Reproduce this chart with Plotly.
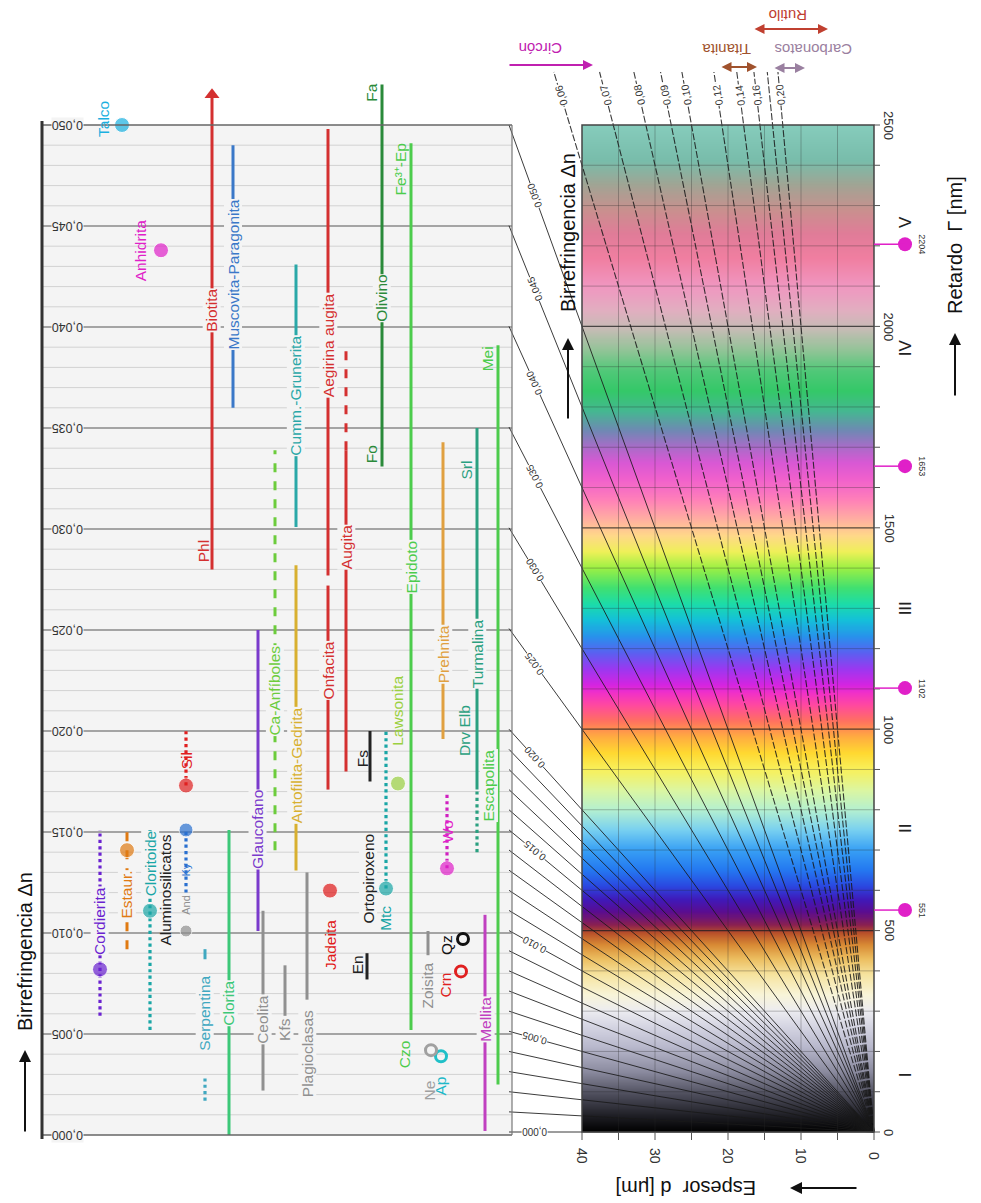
import math
import numpy as np
import plotly.graph_objects as go

# browser page has an 8 px body margin: the figure is drawn 8 px in from the window corner
OFF = 8
W, H = 981 - OFF, 1203 - OFF
FONT = "Liberation Sans, Arial, sans-serif"

# ---------------- geometry of the drawing (window pixels) ----------------
X_D0 = 874.0        # pixel x of thickness d = 0
PX_UM = 7.3         # pixels per micrometre
Y_G0 = 1132.0       # pixel y of retardation 0
PX_NM = 0.4028      # pixels per nm of retardation
Y_DN0 = 1135.0      # pixel y of birefringence 0 (left panel)
PX_DN = 20200.0     # pixels per unit birefringence (left panel)

# ---------------- DATA ----------------
# interference colour stops (retardation nm -> colour)
ret_nm = [0, 40, 90, 150, 210, 260, 300, 340, 390, 430, 465, 495, 515, 545, 575,
          610, 650, 700, 750, 800, 850, 900, 940, 980, 1020, 1060, 1090, 1110,
          1150, 1190, 1230, 1270, 1310, 1350, 1400, 1440, 1480, 1520, 1570,
          1620, 1660, 1700, 1740, 1790, 1840, 1890, 1940, 1990, 2040, 2100,
          2170, 2230, 2290, 2350, 2410, 2500]
ret_col = ["#000000", "#1e1e24", "#4a4a58", "#8a8a9e", "#b8b8cc", "#d4d4e2",
           "#ececf0", "#f8f4d8", "#f6e4a0", "#ecbe60", "#d88a34", "#b8502a",
           "#8a2050", "#5a0c90", "#4018b8", "#2a48e0", "#2478f0", "#38a0f4",
           "#78d0f0", "#b4f0d0", "#dcf6a0", "#f8f05a", "#ffd830", "#ffac40",
           "#ff7060", "#ff48a0", "#f030c8", "#d424e0", "#9a38f0", "#5a60f0",
           "#2890ec", "#14c0d8", "#1cdca8", "#40e070", "#9cf044", "#eef058",
           "#ffd888", "#ffb0a0", "#ff80b8", "#f060cc", "#d858d4", "#a86cc8",
           "#7088b4", "#44b890", "#34c868", "#50c878", "#90c496", "#c4bcb4",
           "#e2aec0", "#f096c0", "#f07ea0", "#e07c98", "#c8908e", "#a0a494",
           "#78bcaa", "#86ccbc"]

# thickness and retardation tick values
thick_ticks = [0, 10, 20, 30, 40]
ret_ticks = [0, 500, 1000, 1500, 2000, 2500]
order_ret = [551, 1102, 1653, 2204]
roman = ["I", "II", "III", "IV", "V"]
roman_ret = [141, 752, 1300, 1946, 2259]

# birefringence isolines
fan_dn = [0.000, 0.001, 0.002, 0.003, 0.004, 0.005, 0.006, 0.007, 0.008, 0.009,
          0.010, 0.011, 0.012, 0.013, 0.014, 0.015, 0.016, 0.017, 0.018, 0.019,
          0.020, 0.025, 0.030, 0.035, 0.040, 0.045, 0.050]
fan_labels = ["0,000", "0,005", "0,010", "0,015", "0,020", "0,025", "0,030",
              "0,035", "0,040", "0,045", "0,050"]
fan_label_dn = [0.000, 0.005, 0.010, 0.015, 0.020, 0.025, 0.030, 0.035, 0.040, 0.045, 0.050]
high_dn = [0.06, 0.07, 0.08, 0.09, 0.10, 0.12, 0.14, 0.16, 0.18, 0.20]
high_labels = ["0,06", "0,07", "0,08", "0,09", "0,10", "0,12", "0,14", "0,16", "", "0,20"]

# left panel birefringence axis
dn_ticks = [0.000, 0.005, 0.010, 0.015, 0.020, 0.025, 0.030, 0.035, 0.040, 0.045, 0.050]
dn_tick_text = ["0,000", "0,005", "0,010", "0,015", "0,020", "0,025", "0,030",
                "0,035", "0,040", "0,045", "0,050"]

# mineral birefringence ranges (bars)
seg_name = ["Cordierita", "Estaurolita", "Cloritoide", "Ky", "Sil", "Serpentina a",
            "Serpentina b", "Clorita", "Biotita", "Muscovita-Paragonita", "Glaucofano",
            "Ceolita", "Kfs", "Ca-Anfiboles", "Cumm.-Grunerita", "Antofilita-Gedrita",
            "Plagioclasas", "Aegirina augita", "Onfacita", "Augita", "Augita (Aeg)",
            "Olivino", "Epidoto", "Fs", "En", "Mtc", "Prehnita", "Turmalina",
            "Drv-Elb", "Escapolita", "Mellita", "Wo", "Zoisita"]
seg_lo = [0.0059, 0.0092, 0.0052, 0.0120, 0.0173, 0.0017, 0.0087, 0.0000, 0.0280,
          0.0360, 0.0101, 0.0022, 0.0059, 0.0141, 0.0301, 0.0131, 0.0067, 0.0277,
          0.0171, 0.0180, 0.0339, 0.0331, 0.0052, 0.0175, 0.0077, 0.0122, 0.0196,
          0.0171, 0.0140, 0.0025, 0.0002, 0.0132, 0.0089]
seg_hi = [0.0151, 0.0151, 0.0151, 0.0151, 0.0200, 0.0028, 0.0092, 0.0151, 0.0515,
          0.0490, 0.0250, 0.0111, 0.0084, 0.0339, 0.0431, 0.0282, 0.0130, 0.0498,
          0.0272, 0.0339, 0.0390, 0.0520, 0.0491, 0.0200, 0.0090, 0.0200, 0.0343,
          0.0350, 0.0171, 0.0391, 0.0109, 0.0170, 0.0101]
# style of each bar (layout only)
seg_x = [100, 127, 150, 186, 186, 205, 205, 229, 212, 233, 258, 263, 285, 275, 296,
         296, 307, 328, 328, 346, 346, 382, 411, 370, 367, 386, 443, 477, 477, 498,
         485, 447, 428]
seg_color = ["#6a22d0", "#e07a12", "#1aa6a6", "#2a70d0", "#e02020", "#40a8c0",
             "#40a8c0", "#3cc878", "#d43030", "#3a78c8", "#7a3acc", "#909090",
             "#909090", "#6ccc3c", "#2aa8a8", "#d8b030", "#909090", "#d43030",
             "#d43030", "#d43030", "#d43030", "#2a8a3a", "#4ccc4c", "#222222",
             "#222222", "#1aa6a6", "#e0a040", "#2aa080", "#2aa080", "#4ccc4c",
             "#c040c0", "#d020c0", "#909090"]
seg_dash = ["dot", "dash", "dot", "dot", "dot", "dot", "solid", "solid", "solid",
            "solid", "solid", "solid", "solid", "dash", "solid", "solid", "solid",
            "solid", "solid", "solid", "dash", "solid", "solid", "solid", "solid",
            "dot", "solid", "solid", "dot", "solid", "solid", "dot", "solid"]

# single-valued minerals (dots)
dot_name = ["Talco", "Anhidrita", "Cordierita", "Estaurolita", "Cloritoide", "And",
            "Ky", "Sil", "Jadeita", "Mtc", "Lawsonita", "Wo"]
dot_dn = [0.0500, 0.0438, 0.0082, 0.0141, 0.0111, 0.0101, 0.0151, 0.0173, 0.0121,
          0.0122, 0.0174, 0.0132]
dot_x = [122, 161, 100, 127, 150, 186, 186, 186, 330, 386, 398, 447]
dot_color = ["#1ab0e0", "#e020c8", "#6a22d0", "#e07a12", "#1aa6a6", "#909090",
             "#2a70d0", "#e02020", "#e01818", "#1aa6a6", "#9ad040", "#e020c8"]
dot_size = [15, 15, 15, 15, 15, 12, 14, 15, 15, 15, 15, 15]

ring_name = ["Qz", "Crn", "Ap", "Ne"]
ring_dn = [0.0097, 0.0081, 0.0039, 0.0042]
ring_x = [463, 461, 441, 431]
ring_color = ["#111111", "#e02020", "#20c0c8", "#a0a0a0"]

# mineral labels: text, x(px), birefringence of label centre, colour, masked-line flag
lab_text = ["Talco", "Anhidrita", "Biotita", "Phl", "Muscovita-Paragonita",
            "Cumm.-Grunerita", "Aegirina augita", "Olivino", "Fo", "Fa", "Fe³⁺-Ep",
            "Epidoto", "Augita", "Onfacita", "Ca-Anfíboles", "Antofilita-Gedrita",
            "Glaucofano", "Prehnita", "Turmalina", "Srl", "Drv Elb", "Escapolita",
            "Mei", "Mellita", "Lawsonita", "Fs", "Ortopiroxeno", "En", "Mtc", "Jadeita",
            "Zoisita", "Czo", "Ne", "Ap", "Crn", "Qz", "Wo", "Cordierita", "Estaur.",
            "Cloritoide", "Aluminosilicatos", "And", "Ky", "Sil", "Serpentina",
            "Clorita", "Ceolita", "Kfs", "Plagioclasas"]
lab_x = [104, 140, 212, 203, 233, 296, 328, 382, 371, 372, 400, 411, 346, 328, 275,
         296, 258, 443, 477, 466, 464, 489, 487, 486, 398, 362, 368, 357, 386, 330,
         428, 404, 430, 441, 446, 446, 447, 100, 127, 150, 166, 186, 186, 186, 205,
         229, 263, 285, 307]
lab_y = [0.0503, 0.0438, 0.0408, 0.0289, 0.0426, 0.0366, 0.0391, 0.0414, 0.0337,
         0.0516, 0.0478, 0.0281, 0.0291, 0.0230, 0.0220, 0.0183, 0.0151, 0.0238,
         0.0238, 0.0329, 0.0200, 0.0173, 0.0384, 0.0057, 0.0210, 0.0186, 0.0127,
         0.0084, 0.0107, 0.0094, 0.0074, 0.0040, 0.0022, 0.0024, 0.0074, 0.0094,
         0.0150, 0.0106, 0.0119, 0.0134, 0.0121, 0.0114, 0.0131, 0.0185, 0.0060,
         0.0065, 0.0057, 0.0052, 0.0040]
lab_color = ["#1ab0e0", "#e020c8", "#d43030", "#d43030", "#3a78c8", "#2aa8a8",
             "#d43030", "#2a8a3a", "#2a8a3a", "#2a8a3a", "#4ccc4c", "#4ccc4c",
             "#d43030", "#d43030", "#6ccc3c", "#d8b030", "#7a3acc", "#e0a040",
             "#2aa080", "#2aa080", "#2aa080", "#4ccc4c", "#4ccc4c", "#c040c0",
             "#9ad040", "#222222", "#222222", "#222222", "#1aa6a6", "#e01818",
             "#909090", "#4ccc4c", "#a0a0a0", "#20b8c8", "#e02020", "#111111",
             "#e020c8", "#6a22d0", "#e07a12", "#1aa6a6", "#222222", "#909090",
             "#2a70d0", "#e02020", "#40a8c0", "#3cc878", "#909090", "#909090",
             "#909090"]
lab_mask = [0, 0, 1, 0, 1, 1, 1, 1, 0, 0, 0, 1, 1, 1, 1, 1, 1, 1, 1, 0, 0, 1, 0, 1,
            0, 0, 1, 0, 0, 0, 0, 0, 0, 0, 0, 0, 0, 1, 1, 1, 0, 0, 0, 0, 1, 1, 1, 1, 1]

PANEL_BG = "#f4f4f4"

# ---------------- figure ----------------
fig = go.Figure()

# colour chart (heat map coloured by retardation)
cs = [[g / 2500.0, c] for g, c in zip(ret_nm, ret_col)]
g_edges = np.linspace(0, 2500, 1001)
g_mid = (g_edges[:-1] + g_edges[1:]) / 2
fig.add_trace(go.Heatmap(x=[0, 40], y=g_edges, z=g_mid.reshape(-1, 1),
                         colorscale=cs, zmin=0, zmax=2500, showscale=False,
                         hoverinfo="skip", xaxis="x", yaxis="y"))

shapes = []
# chart grid
for g in range(100, 2500, 100):
    strong = g % 500 == 0
    shapes.append(dict(type="line", xref="x", yref="y", x0=0, x1=40, y0=g, y1=g,
                       line=dict(color="rgba(30,30,30,0.75)" if strong else "rgba(40,40,40,0.3)",
                                 width=1.3 if strong else 1)))
for d in range(5, 40, 5):
    shapes.append(dict(type="line", xref="x", yref="y", x0=d, x1=d, y0=0, y1=2500,
                       line=dict(color="rgba(40,40,40,0.3)", width=1)))

# birefringence isolines
fx, fy = [], []
for dn in fan_dn:
    fx += [0, 50, None]
    fy += [0, dn * 50000, None]
hx, hy = [], []
G_TOP = (Y_G0 - 72) / PX_NM
for dn in high_dn:
    hx += [0, G_TOP / (1000 * dn), None]
    hy += [0, G_TOP, None]
fig.add_trace(go.Scatter(x=fx, y=fy, mode="lines", line=dict(color="rgba(25,25,25,0.85)", width=1),
                         hoverinfo="skip", xaxis="x", yaxis="y"))
fig.add_trace(go.Scatter(x=hx, y=hy, mode="lines",
                         line=dict(color="rgba(25,25,25,0.85)", width=1.1, dash="7px,2px"),
                         hoverinfo="skip", xaxis="x", yaxis="y"))

# chart frame
shapes.append(dict(type="rect", xref="x", yref="y", x0=0, x1=40, y0=0, y1=2500,
                   line=dict(color="#444", width=1.5)))
# ticks on the chart
for g in range(0, 2501, 100):
    shapes.append(dict(type="line", xref="x", yref="y", x0=0, x1=-6 / PX_UM, y0=g, y1=g,
                       line=dict(color="#555", width=1)))
for d in range(0, 41, 5):
    shapes.append(dict(type="line", xref="x", yref="y", x0=d, x1=d, y0=0, y1=-8 / PX_NM,
                       line=dict(color="#555", width=1)))

# order lines and markers
D_ORD = -31 / PX_UM
for g in order_ret:
    shapes.append(dict(type="line", xref="x", yref="y", x0=0, x1=D_ORD, y0=g, y1=g,
                       line=dict(color="#e020c8", width=1.5)))
fig.add_trace(go.Scatter(x=[D_ORD] * len(order_ret), y=order_ret, mode="markers",
                         marker=dict(color="#e020c8", size=14), hoverinfo="skip",
                         xaxis="x", yaxis="y"))

# ---------------- left panel ----------------
shapes.insert(0, dict(type="rect", xref="x2", yref="y2", x0=42, x1=512, y0=0, y1=0.05,
                      fillcolor=PANEL_BG, line=dict(width=0), layer="below"))
for i in range(1, 50):
    v = i / 1000.0
    major = i % 5 == 0
    shapes.append(dict(type="line", xref="x2", yref="y2", x0=42, x1=512, y0=v, y1=v,
                       layer="below",
                       line=dict(color="#8a8a8a" if major else "#d2d2d2",
                                 width=1.6 if major else 1)))
shapes.append(dict(type="line", xref="x2", yref="y2", x0=42, x1=512, y0=0.05, y1=0.05,
                   line=dict(color="#666", width=1.5)))
shapes.append(dict(type="line", xref="x2", yref="y2", x0=42, x1=512, y0=0, y1=0,
                   line=dict(color="#666", width=1.5)))
shapes.append(dict(type="line", xref="x2", yref="y2", x0=512, x1=512, y0=0, y1=0.05,
                   line=dict(color="#777", width=1.2)))
shapes.append(dict(type="line", xref="x2", yref="y2", x0=42, x1=42, y0=-0.0002, y1=0.0502,
                   line=dict(color="#333", width=3)))

# bars
for n, lo, hi, x, c, ds in zip(seg_name, seg_lo, seg_hi, seg_x, seg_color, seg_dash):
    fig.add_trace(go.Scatter(x=[x, x], y=[lo, hi], mode="lines",
                             line=dict(color=c, width=3 if ds != "dot" else 3.2, dash=ds),
                             hoverinfo="skip", xaxis="x2", yaxis="y2"))
# Biotita arrow head
fig.add_trace(go.Scatter(x=[212], y=[0.0515], mode="markers",
                         marker=dict(symbol="triangle-up", size=13, color="#d43030"),
                         hoverinfo="skip", xaxis="x2", yaxis="y2"))
# dots
fig.add_trace(go.Scatter(x=dot_x, y=dot_dn, mode="markers",
                         marker=dict(color=dot_color, size=dot_size), hoverinfo="skip",
                         xaxis="x2", yaxis="y2"))
fig.add_trace(go.Scatter(x=ring_x, y=ring_dn, mode="markers",
                         marker=dict(color="rgba(0,0,0,0)", size=11,
                                     line=dict(color=ring_color, width=3)),
                         hoverinfo="skip", xaxis="x2", yaxis="y2"))

ann = []


def yp(ypx):
    return 1 - (ypx - OFF) / H


def txt(text, x, y, color, size, angle=-90, xref="x2", yref="paper", bg=None, family=FONT):
    a = dict(text=text, x=x, y=y, xref=xref, yref=yref, showarrow=False, textangle=angle,
             xanchor="center", yanchor="middle",
             font=dict(color=color, size=size, family=family), borderpad=0)
    if bg:
        a["bgcolor"] = bg
    return a


for t, x, v, c, m in zip(lab_text, lab_x, lab_y, lab_color, lab_mask):
    size = 11 if t in ("And", "Ky") else 15.5
    ann.append(txt(t, x, v, c, size, yref="y2", bg=PANEL_BG if m else None))

# left axis tick labels
for v, t in zip(dn_ticks, dn_tick_text):
    ann.append(txt(t, 68, v, "#333", 12.5, angle=180, yref="y2", bg=PANEL_BG))

# isoline labels in the gap
for v, t in zip(fan_label_dn, fan_labels):
    d = 46.5
    ang = math.degrees(math.atan(v * 1000 * PX_NM / PX_UM))
    a = ang - 180 if v > 0 else 180
    ann.append(txt(t, d, v * d * 1000, "#333", 10, angle=a, xref="x", yref="y", bg="white"))
G_LAB = (Y_G0 - 95) / PX_NM
for v, t in zip(high_dn, high_labels):
    if not t:
        continue
    ang = math.degrees(math.atan(v * 1000 * PX_NM / PX_UM))
    ann.append(txt(t, G_LAB / (1000 * v), G_LAB, "#333", 10.5, angle=ang - 180,
                   xref="x", yref="y", bg="white"))

# chart axis labels
for g in ret_ticks:
    ann.append(txt(str(g), -15 / PX_UM, g, "#333", 13, angle=90, xref="x", yref="y"))
for d in thick_ticks:
    ann.append(txt(str(d), d, -24 / PX_NM, "#333", 14, angle=90, xref="x", yref="y"))
for g in order_ret:
    ann.append(txt(str(g), -48 / PX_UM, g, "#333", 9, angle=90, xref="x", yref="y"))
for r, g in zip(roman, roman_ret):
    ann.append(txt(r, -31 / PX_UM, g, "#222", 17, angle=-90, xref="x", yref="y"))

# axis titles
ann.append(txt("Birrefringencia Δn", 25, yp(952), "#111", 20))
ann.append(txt("Birrefringencia Δn", 568, yp(233), "#111", 20))
ann.append(txt("Retardo  Γ [nm]", 955, yp(245), "#111", 20))
ann.append(txt("Espesor  d [μm]", 686, yp(1188), "#111", 20, angle=180))
# arrows of axis titles (head -> tail)
for (xh, yh, xt, yt) in [(25, 1050, 25, 1133), (568, 338, 568, 420), (955, 333, 955, 397),
                         (790, 1188, 858, 1188)]:
    ann.append(dict(x=xh, y=yp(yh), xref="x2", yref="paper", ax=xt - xh, ay=yt - yh,
                    axref="pixel", ayref="pixel", showarrow=True, arrowhead=2,
                    arrowsize=1.2, arrowwidth=2, arrowcolor="#111", text=""))

# high-birefringence minerals at top
ann.append(txt("Circón", 541, yp(48), "#c020b0", 15, angle=180))
ann.append(txt("Titanita", 727, yp(50), "#a0522d", 15, angle=180))
ann.append(txt("Carbonatos", 813, yp(50), "#9a80a0", 15, angle=180))
ann.append(txt("Rutilo", 788, yp(15), "#c04030", 15, angle=180))
ann.append(dict(x=593, y=yp(65), xref="x2", yref="paper", ax=508 - 593, ay=0,
                showarrow=True, arrowhead=2, arrowwidth=2, arrowcolor="#c020b0", text=""))
for (x1, x2, yy, c) in [(720, 757, 67, "#a0522d"), (773, 805, 68, "#9a80a0"),
                        (753, 828, 29, "#c04030")]:
    ann.append(dict(x=x2, y=yp(yy), xref="x2", yref="paper", ax=x1 - x2, ay=0,
                    showarrow=True, arrowhead=2, startarrowhead=2, arrowside="end+start",
                    arrowwidth=2, arrowcolor=c, text=""))

fig.update_layout(
    width=W, height=H, margin=dict(l=0, r=0, t=0, b=0),
    paper_bgcolor="white", plot_bgcolor="rgba(0,0,0,0)", showlegend=False,
    xaxis=dict(domain=[0, 1], range=[(X_D0 - OFF) / PX_UM, (X_D0 - OFF - W) / PX_UM],
               visible=False, fixedrange=True),
    yaxis=dict(domain=[0, 1], range=[-(OFF + H - Y_G0) / PX_NM, (Y_G0 - OFF) / PX_NM],
               visible=False, fixedrange=True),
    xaxis2=dict(overlaying="x", range=[OFF, OFF + W], visible=False, anchor="y2"),
    yaxis2=dict(overlaying="y", range=[-(OFF + H - Y_DN0) / PX_DN, (Y_DN0 - OFF) / PX_DN],
                visible=False, anchor="x2"),
    shapes=shapes, annotations=ann,
)

fig.write_html("out.html")
